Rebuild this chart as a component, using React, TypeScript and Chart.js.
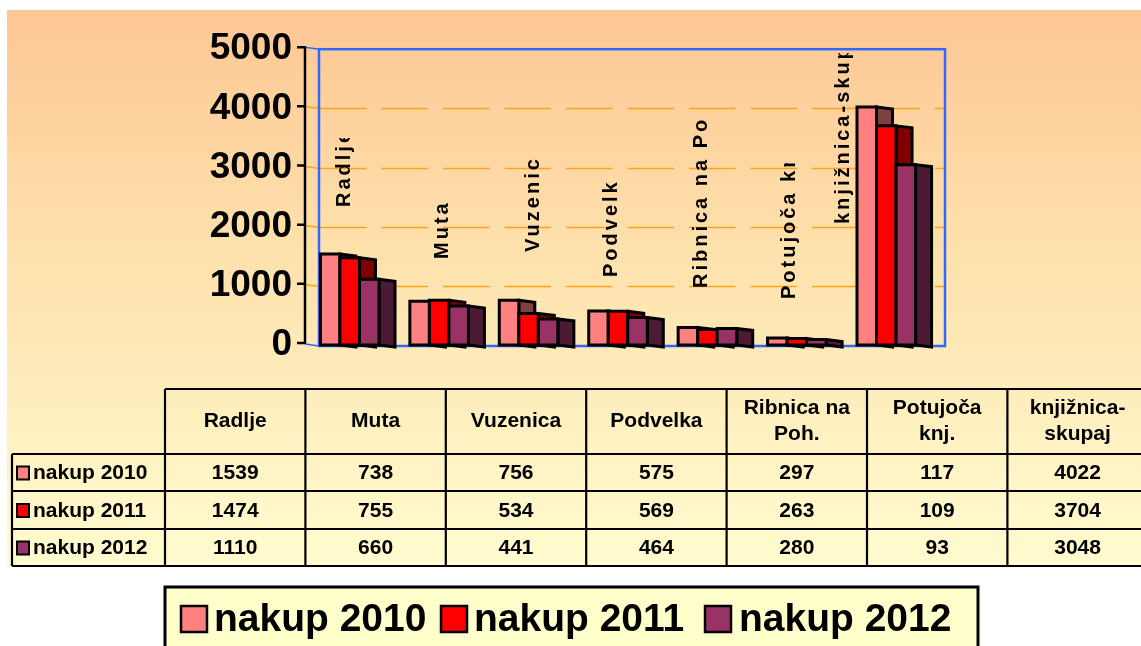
import { useEffect, useRef } from "react";
import { Chart, registerables } from "chart.js";

Chart.register(...registerables);

// ---------- DATA ----------
const categories = [
  "Radlje",
  "Muta",
  "Vuzenica",
  "Podvelka",
  "Ribnica na Poh.",
  "Potujoča knj.",
  "knjižnica-skupaj",
];
const tableHeaders = [
  ["Radlje"],
  ["Muta"],
  ["Vuzenica"],
  ["Podvelka"],
  ["Ribnica na", "Poh."],
  ["Potujoča", "knj."],
  ["knjižnica-", "skupaj"],
];
const seriesNames = ["nakup 2010", "nakup 2011", "nakup 2012"];
const nakup2010 = [1539, 738, 756, 575, 297, 117, 4022];
const nakup2011 = [1474, 755, 534, 569, 263, 109, 3704];
const nakup2012 = [1110, 660, 441, 464, 280, 93, 3048];
const yTicks = [0, 1000, 2000, 3000, 4000, 5000];

// ---------- STYLE / LAYOUT ----------
const frontColors = ["#ff8080", "#ff0000", "#993366"];
const sideColors = ["#804040", "#800000", "#4d1a33"];
const FONT = "'Liberation Sans', Arial, sans-serif";
const DEPTH_X = 16;
const DEPTH_Y = 2;
const GROUP_SHIFT = -14;
const AXIS_X = 305;
// in-plot category label placement (offset from category center, bottom y, visible length)
const labelDx = [-20, -12, -10, -22, -21, -22, -58];
const labelBottom = [207, 259, 252, 277, 288, 299, 224];
const labelClip = [69, 999, 96, 97, 170, 136, 171];
// table layout
const TABLE_X0 = 165;
const TABLE_COL_W = 140.4;
const TABLE_LABEL_X0 = 12;
const TABLE_RIGHT = 1150;
const TABLE_ROWS = [389, 454, 491, 529, 566];

const seriesData = [nakup2010, nakup2011, nakup2012];

const customPlugin = {
  id: "custom3d",
  beforeDraw(chart: any) {
    const ctx = chart.ctx as CanvasRenderingContext2D;
    ctx.save();
    ctx.fillStyle = "#ffffff";
    ctx.fillRect(0, 0, chart.width, chart.height);
    const g = ctx.createLinearGradient(0, 10, 0, 567);
    g.addColorStop(0, "#fdc794");
    g.addColorStop(0.45, "#fee2ad");
    g.addColorStop(1, "#fffcd0");
    ctx.fillStyle = g;
    ctx.fillRect(7, 10, chart.width - 7, 557);
    ctx.restore();
  },
  beforeDatasetsDraw(chart: any) {
    const ctx = chart.ctx as CanvasRenderingContext2D;
    const area = chart.chartArea;
    const y = chart.scales.y;
    ctx.save();
    // gridlines
    ctx.strokeStyle = "#ffa319";
    ctx.lineWidth = 1.3;
    for (const v of yTicks) {
      if (v === 0 || v === 5000) continue;
      const py = Math.round(y.getPixelForValue(v)) + 0.5;
      ctx.setLineDash([]);
      ctx.beginPath();
      ctx.moveTo(AXIS_X, py - 2);
      ctx.lineTo(area.left, py);
      ctx.stroke();
      ctx.setLineDash([46.5, 15]);
      ctx.beginPath();
      ctx.moveTo(area.left + 1, py);
      ctx.lineTo(area.right, py);
      ctx.stroke();
    }
    ctx.setLineDash([]);
    // blue frame
    ctx.strokeStyle = "#3366ff";
    ctx.lineWidth = 2.5;
    ctx.strokeRect(area.left, area.top, area.right - area.left, area.bottom - area.top + 1);
    ctx.lineWidth = 1.5;
    ctx.beginPath();
    ctx.moveTo(AXIS_X, area.top - 2);
    ctx.lineTo(area.left, area.top);
    ctx.moveTo(AXIS_X, area.bottom - 1);
    ctx.lineTo(area.left, area.bottom + 1);
    ctx.stroke();
    // black axis + ticks
    ctx.strokeStyle = "#000";
    ctx.lineWidth = 2.5;
    ctx.beginPath();
    ctx.moveTo(AXIS_X, y.getPixelForValue(5000) - 3);
    ctx.lineTo(AXIS_X, y.getPixelForValue(0) - 1);
    for (const v of yTicks) {
      const py = y.getPixelForValue(v) - 2;
      ctx.moveTo(AXIS_X - 8, py);
      ctx.lineTo(AXIS_X, py);
    }
    ctx.stroke();
    ctx.restore();
  },
  afterDatasetsDraw(chart: any) {
    const ctx = chart.ctx as CanvasRenderingContext2D;
    const xs = chart.scales.x;
    ctx.save();
    ctx.lineJoin = "miter";
    ctx.strokeStyle = "#000";
    ctx.lineWidth = 3;
    for (let i = 0; i < categories.length; i++) {
      for (let d = 0; d < seriesData.length; d++) {
        const el = chart.getDatasetMeta(d).data[i];
        const w = el.width;
        const xl = el.x - w / 2 + GROUP_SHIFT;
        const xr = xl + w;
        const top = el.y;
        const base = el.base;
        // side face
        ctx.beginPath();
        ctx.moveTo(xr, top);
        ctx.lineTo(xr + DEPTH_X, top + DEPTH_Y);
        ctx.lineTo(xr + DEPTH_X, base + DEPTH_Y);
        ctx.lineTo(xr, base);
        ctx.closePath();
        ctx.fillStyle = sideColors[d];
        ctx.fill();
        ctx.stroke();
        // front face
        ctx.beginPath();
        ctx.rect(xl, top, w, base - top);
        ctx.fillStyle = frontColors[d];
        ctx.fill();
        ctx.stroke();
      }
    }
    // in-plot category labels (rotated)
    ctx.fillStyle = "#000";
    ctx.font = `bold 20px ${FONT}`;
    (ctx as any).letterSpacing = "3px";
    ctx.textBaseline = "middle";
    ctx.textAlign = "left";
    for (let i = 0; i < categories.length; i++) {
      const cx = xs.getPixelForValue(i) + labelDx[i];
      const by = labelBottom[i];
      ctx.save();
      ctx.translate(cx, by);
      ctx.rotate(-Math.PI / 2);
      ctx.beginPath();
      ctx.rect(0, -15, labelClip[i], 30);
      ctx.clip();
      ctx.fillText(categories[i], 0, 1);
      ctx.restore();
    }
    (ctx as any).letterSpacing = "0px";
    ctx.restore();
  },
  afterDraw(chart: any) {
    const ctx = chart.ctx as CanvasRenderingContext2D;
    ctx.save();
    // ---- data table ----
    ctx.strokeStyle = "#000";
    ctx.lineWidth = 2.2;
    ctx.beginPath();
    ctx.moveTo(TABLE_X0, TABLE_ROWS[0]);
    ctx.lineTo(TABLE_RIGHT, TABLE_ROWS[0]);
    for (let r = 1; r < TABLE_ROWS.length; r++) {
      ctx.moveTo(TABLE_LABEL_X0, TABLE_ROWS[r]);
      ctx.lineTo(TABLE_RIGHT, TABLE_ROWS[r]);
    }
    ctx.moveTo(TABLE_LABEL_X0, TABLE_ROWS[1]);
    ctx.lineTo(TABLE_LABEL_X0, TABLE_ROWS[4]);
    for (let c = 0; c <= categories.length; c++) {
      const x = TABLE_X0 + c * TABLE_COL_W;
      ctx.moveTo(x, TABLE_ROWS[0]);
      ctx.lineTo(x, TABLE_ROWS[4]);
    }
    ctx.stroke();

    ctx.fillStyle = "#000";
    ctx.font = `bold 21px ${FONT}`;
    ctx.textAlign = "center";
    ctx.textBaseline = "middle";
    for (let c = 0; c < tableHeaders.length; c++) {
      const cx = TABLE_X0 + (c + 0.5) * TABLE_COL_W;
      const lines = tableHeaders[c];
      const cy = (TABLE_ROWS[0] + TABLE_ROWS[1]) / 2;
      lines.forEach((t, k) => {
        const yy = cy + (k - (lines.length - 1) / 2) * 26;
        ctx.fillText(t, cx, yy);
      });
    }
    for (let d = 0; d < seriesData.length; d++) {
      const cy = (TABLE_ROWS[d + 1] + TABLE_ROWS[d + 2]) / 2 + 1;
      for (let c = 0; c < categories.length; c++) {
        const cx = TABLE_X0 + (c + 0.5) * TABLE_COL_W;
        ctx.fillText(String(seriesData[d][c]), cx, cy);
      }
      // swatch + label
      ctx.fillStyle = frontColors[d];
      ctx.fillRect(17, cy - 7, 12, 13);
      ctx.lineWidth = 2;
      ctx.strokeRect(17, cy - 7, 12, 13);
      ctx.fillStyle = "#000";
      ctx.textAlign = "left";
      ctx.fillText(seriesNames[d], 33, cy);
      ctx.textAlign = "center";
    }

    // ---- legend ----
    ctx.fillStyle = "#ffffcc";
    ctx.fillRect(165, 587, 813, 70);
    ctx.lineWidth = 3;
    ctx.strokeStyle = "#000";
    ctx.strokeRect(165, 587, 813, 70);
    const swX = [181, 441, 705];
    const txX = [214, 474, 739];
    ctx.font = `bold 39px ${FONT}`;
    ctx.textAlign = "left";
    ctx.textBaseline = "middle";
    for (let d = 0; d < seriesNames.length; d++) {
      ctx.fillStyle = frontColors[d];
      ctx.fillRect(swX[d], 606, 26, 26);
      ctx.lineWidth = 2.5;
      ctx.strokeRect(swX[d], 606, 26, 26);
      ctx.fillStyle = "#000";
      ctx.fillText(seriesNames[d], txX[d], 620);
    }
    ctx.restore();
  },
};

export default function App() {
  const ref = useRef<HTMLCanvasElement>(null);
  useEffect(() => {
    const canvas = ref.current;
    if (!canvas) return;
    const chart = new Chart(canvas, {
      type: "bar",
      data: {
        labels: categories,
        datasets: seriesNames.map((name, d) => ({
          label: name,
          data: seriesData[d],
          backgroundColor: "rgba(0,0,0,0)",
          borderWidth: 0,
          barPercentage: 1,
          categoryPercentage: 0.655,
        })),
      },
      options: {
        responsive: false,
        animation: false,
        devicePixelRatio: 1,
        layout: { padding: { left: 0, top: 45, right: 196, bottom: 301 } },
        plugins: { legend: { display: false }, tooltip: { enabled: false } },
        scales: {
          x: { display: false },
          y: {
            min: 0,
            max: 5000,
            afterFit: (s: any) => {
              s.width = 319;
            },
            afterBuildTicks: (s: any) => {
              s.ticks = yTicks.map((v) => ({ value: v }));
            },
            border: { display: false },
            grid: { display: false, drawTicks: false },
            ticks: {
              padding: 27,
              color: "#000",
              font: { family: FONT, size: 37, weight: "bold" },
              callback: (v: any) => String(v),
            },
          },
        },
      },
      plugins: [customPlugin],
    } as any);
    return () => chart.destroy();
  }, []);
  return (
    <div style={{ position: "absolute", left: 0, top: 0, width: 1141, height: 646, background: "#fff" }}>
      <canvas ref={ref} width={1141} height={646} style={{ display: "block", width: 1141, height: 646 }} />
    </div>
  );
}
